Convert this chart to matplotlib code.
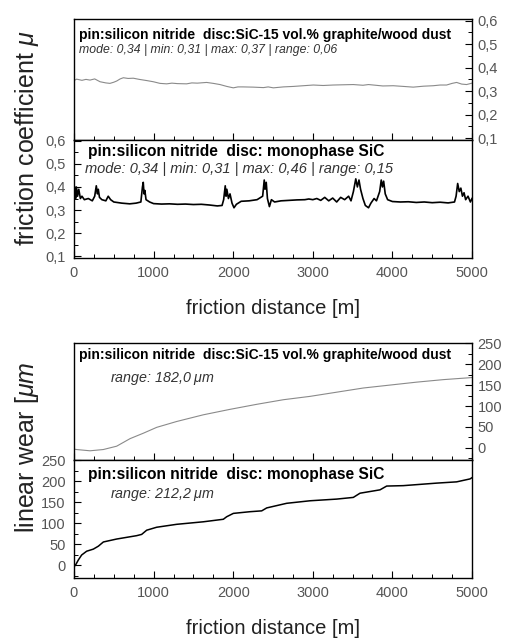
import matplotlib
matplotlib.use("Agg")
import matplotlib.pyplot as plt
from matplotlib.ticker import MultipleLocator, FuncFormatter

plt.rcParams['font.family'] = ['Liberation Sans', 'DejaVu Sans']
plt.rcParams['mathtext.fontset'] = 'custom'
plt.rcParams['mathtext.it'] = 'Liberation Sans:italic'
plt.rcParams['mathtext.rm'] = 'Liberation Sans'

# friction coefficient, pin: silicon nitride / disc: SiC-15 vol.% graphite/wood dust
dist_f1 = [0, 33, 100, 150, 201, 260, 327, 400, 452, 500, 536, 580, 620, 680, 745, 820,
           913, 996, 1080, 1164, 1230, 1300, 1415, 1480, 1550, 1666, 1750, 1834, 1920,
           2001, 2060, 2120, 2252, 2380, 2440, 2504, 2630, 2755, 2880, 3006, 3130, 3257,
           3380, 3508, 3630, 3700, 3760, 3880, 4011, 4140, 4262, 4390, 4513, 4600, 4681,
           4750, 4807, 4870, 4932, 5000]
mu_f1 = [0.345, 0.351, 0.346, 0.350, 0.347, 0.352, 0.340, 0.335, 0.333, 0.338, 0.343,
         0.352, 0.357, 0.354, 0.355, 0.350, 0.345, 0.340, 0.333, 0.331, 0.334, 0.332,
         0.331, 0.335, 0.334, 0.337, 0.333, 0.328, 0.320, 0.314, 0.318, 0.318, 0.317,
         0.315, 0.318, 0.314, 0.318, 0.320, 0.323, 0.326, 0.324, 0.326, 0.327, 0.328,
         0.325, 0.328, 0.326, 0.322, 0.323, 0.320, 0.317, 0.321, 0.323, 0.326, 0.326,
         0.333, 0.337, 0.330, 0.328, 0.334]

# friction coefficient, pin: silicon nitride / disc: monophase SiC
dist_f2 = [0, 10, 20, 30, 45, 60, 80, 100, 130, 180, 230, 260, 280, 295, 305, 320, 350,
           400, 430, 460, 500, 600, 700, 780, 840, 860, 870, 880, 890, 905, 950, 1000,
           1100, 1200, 1300, 1400, 1500, 1600, 1700, 1800, 1860, 1880, 1900, 1910, 1920,
           1940, 1960, 1985, 2010, 2040, 2100, 2200, 2300, 2370, 2390, 2400, 2415, 2430,
           2455, 2480, 2520, 2600, 2700, 2800, 2900, 2950, 3000, 3050, 3100, 3150, 3200,
           3250, 3300, 3350, 3400, 3450, 3480, 3510, 3540, 3560, 3580, 3600, 3630, 3660,
           3700, 3730, 3770, 3800, 3840, 3860, 3875, 3890, 3910, 3940, 4000, 4100, 4200,
           4300, 4400, 4500, 4600, 4700, 4780, 4800, 4820, 4840, 4860, 4880, 4900, 4920,
           4950, 4980, 5000]
mu_f2 = [0.36, 0.40, 0.35, 0.40, 0.36, 0.39, 0.35, 0.36, 0.345, 0.35, 0.34, 0.36, 0.405,
         0.37, 0.39, 0.355, 0.345, 0.34, 0.36, 0.345, 0.335, 0.33, 0.327, 0.33, 0.335,
         0.40, 0.42, 0.37, 0.385, 0.345, 0.335, 0.328, 0.326, 0.327, 0.325, 0.326, 0.324,
         0.325, 0.322, 0.318, 0.32, 0.345, 0.405, 0.36, 0.39, 0.35, 0.37, 0.33, 0.31,
         0.325, 0.338, 0.34, 0.345, 0.36, 0.43, 0.39, 0.42, 0.35, 0.315, 0.345, 0.335,
         0.34, 0.342, 0.344, 0.345, 0.348, 0.345, 0.35, 0.342, 0.355, 0.34, 0.352, 0.335,
         0.355, 0.345, 0.36, 0.34, 0.38, 0.435, 0.40, 0.43, 0.39, 0.35, 0.32, 0.31, 0.33,
         0.35, 0.34, 0.38, 0.43, 0.40, 0.425, 0.37, 0.345, 0.337, 0.335, 0.336, 0.333,
         0.335, 0.332, 0.334, 0.331, 0.335, 0.36, 0.415, 0.38, 0.395, 0.36, 0.375, 0.345,
         0.36, 0.335, 0.35]

# linear wear [um]
dist_w1 = [0, 33, 201, 368, 536, 704, 871, 1039, 1290, 1625, 1960, 2295, 2630, 2965,
           3300, 3635, 3970, 4305, 4640, 4933, 5000]
wear_w1 = [-3, -4, -7, -4, 4, 22, 35, 49, 63, 79, 92, 104, 115, 123, 133, 143, 150, 157,
           163, 167, 168]

dist_w2 = [0, 25, 54, 96, 159, 243, 306, 369, 536, 787, 850, 913, 1038, 1290, 1625, 1876,
           1918, 2002, 2211, 2358, 2421, 2672, 2965, 3300, 3509, 3593, 3844, 3928, 4137,
           4556, 4807, 4975, 5000]
wear_w2 = [-4, 2, 12, 24, 33, 38, 45, 55, 62, 70, 73, 83, 90, 97, 103, 109, 115, 123, 127,
           129, 136, 147, 153, 157, 161, 171, 179, 188, 189, 195, 198, 205, 208]

title_top = "pin:silicon nitride  disc:SiC-15 vol.% graphite/wood dust"
title_bot = "pin:silicon nitride  disc: monophase SiC"
stats_f1 = "mode: 0,34 | min: 0,31 | max: 0,37 | range: 0,06"
stats_f2 = "mode: 0,34 | min: 0,31 | max: 0,46 | range: 0,15"
stats_w1 = "range: 182,0 $\\mu m$"
stats_w2 = "range: 212,2 $\\mu m$"

W, H = 510, 641
fig = plt.figure(figsize=(W / 100, H / 100), dpi=100)


def box(top, bottom):
    return [74 / W, 1 - bottom / H, 398 / W, (bottom - top) / H]


comma = FuncFormatter(lambda v, p: ("%.1f" % v).replace(".", ","))
gray = "#555555"
tsize = 10.5


def style(ax, side, ymaj, ymin, fmt=None, xlabels=False):
    ax.set_xlim(0, 5000)
    ax.xaxis.set_major_locator(MultipleLocator(1000))
    ax.xaxis.set_minor_locator(MultipleLocator(250))
    ax.yaxis.set_major_locator(MultipleLocator(ymaj))
    ax.yaxis.set_minor_locator(MultipleLocator(ymin))
    if fmt is not None:
        ax.yaxis.set_major_formatter(fmt)
    ax.tick_params(axis='x', which='both', direction='in', top=False, bottom=True,
                   labelbottom=xlabels, labelsize=tsize, labelcolor=gray, pad=6)
    ax.tick_params(axis='x', which='major', length=5, width=0.8)
    ax.tick_params(axis='x', which='minor', length=3, width=0.7)
    if side == 'right':
        ax.tick_params(axis='y', which='both', direction='in', left=False, right=True,
                       labelleft=False, labelright=True, labelsize=tsize,
                       labelcolor=gray, pad=4)
    else:
        ax.tick_params(axis='y', which='both', direction='in', left=True, right=False,
                       labelleft=True, labelright=False, labelsize=tsize,
                       labelcolor=gray, pad=6)
    ax.tick_params(axis='y', which='major', length=5, width=0.8)
    ax.tick_params(axis='y', which='minor', length=3, width=0.7)
    for s in ax.spines.values():
        s.set_linewidth(1.0)


# friction, upper panel
ax1 = fig.add_axes(box(19, 140))
ax1.plot(dist_f1, mu_f1, color="#8a8a8a", lw=0.8)
ax1.set_ylim(0.092, 0.607)
style(ax1, 'right', 0.1, 0.05, comma)
ax1.text(0.012, 0.868, title_top, transform=ax1.transAxes, fontsize=10,
         fontweight='bold', va='center')
ax1.text(0.012, 0.744, stats_f1, transform=ax1.transAxes, fontsize=8.8,
         style='italic', color="#333333", va='center')

# friction, lower panel
ax2 = fig.add_axes(box(140, 257.5))
ax2.plot(dist_f2, mu_f2, color="black", lw=1.2)
ax2.set_ylim(0.095, 0.603)
style(ax2, 'left', 0.1, 0.05, comma, xlabels=True)
ax2.text(0.035, 0.905, title_bot, transform=ax2.transAxes, fontsize=11.2,
         fontweight='bold', va='center')
ax2.text(0.028, 0.755, stats_f2, transform=ax2.transAxes, fontsize=10.5,
         style='italic', color="#333333", va='center')

# wear, upper panel
ax3 = fig.add_axes(box(343, 460))
ax3.plot(dist_w1, wear_w1, color="#8a8a8a", lw=0.8)
ax3.set_ylim(-29, 250.5)
style(ax3, 'right', 50, 25)
ax3.text(0.012, 0.897, title_top, transform=ax3.transAxes, fontsize=10,
         fontweight='bold', va='center')
ax3.text(0.09, 0.70, stats_w1, transform=ax3.transAxes, fontsize=10.3,
         style='italic', color="#333333", va='center')

# wear, lower panel
ax4 = fig.add_axes(box(460, 577.7))
ax4.plot(dist_w2, wear_w2, color="black", lw=1.1)
ax4.set_ylim(-30, 250)
style(ax4, 'left', 50, 25, xlabels=True)
ax4.text(0.035, 0.881, title_bot, transform=ax4.transAxes, fontsize=11.2,
         fontweight='bold', va='center')
ax4.text(0.09, 0.703, stats_w2, transform=ax4.transAxes, fontsize=10.3,
         style='italic', color="#333333", va='center')

fig.text(27 / W, 1 - 138 / H, "friction coefficient $\\mu$", rotation=90,
         ha='center', va='center', fontsize=18, color="#222222")
fig.text(27 / W, 1 - 447 / H, "linear wear [$\\mu m$", rotation=90,
         ha='center', va='center', fontsize=18, color="#222222")
fig.text(273 / W, 1 - 308 / H, "friction distance [m]", ha='center', va='center',
         fontsize=14.5, color="#222222")
fig.text(273 / W, 1 - 629 / H, "friction distance [m]", ha='center', va='center',
         fontsize=14.5, color="#222222")

fig.savefig("out.png", dpi=100)
